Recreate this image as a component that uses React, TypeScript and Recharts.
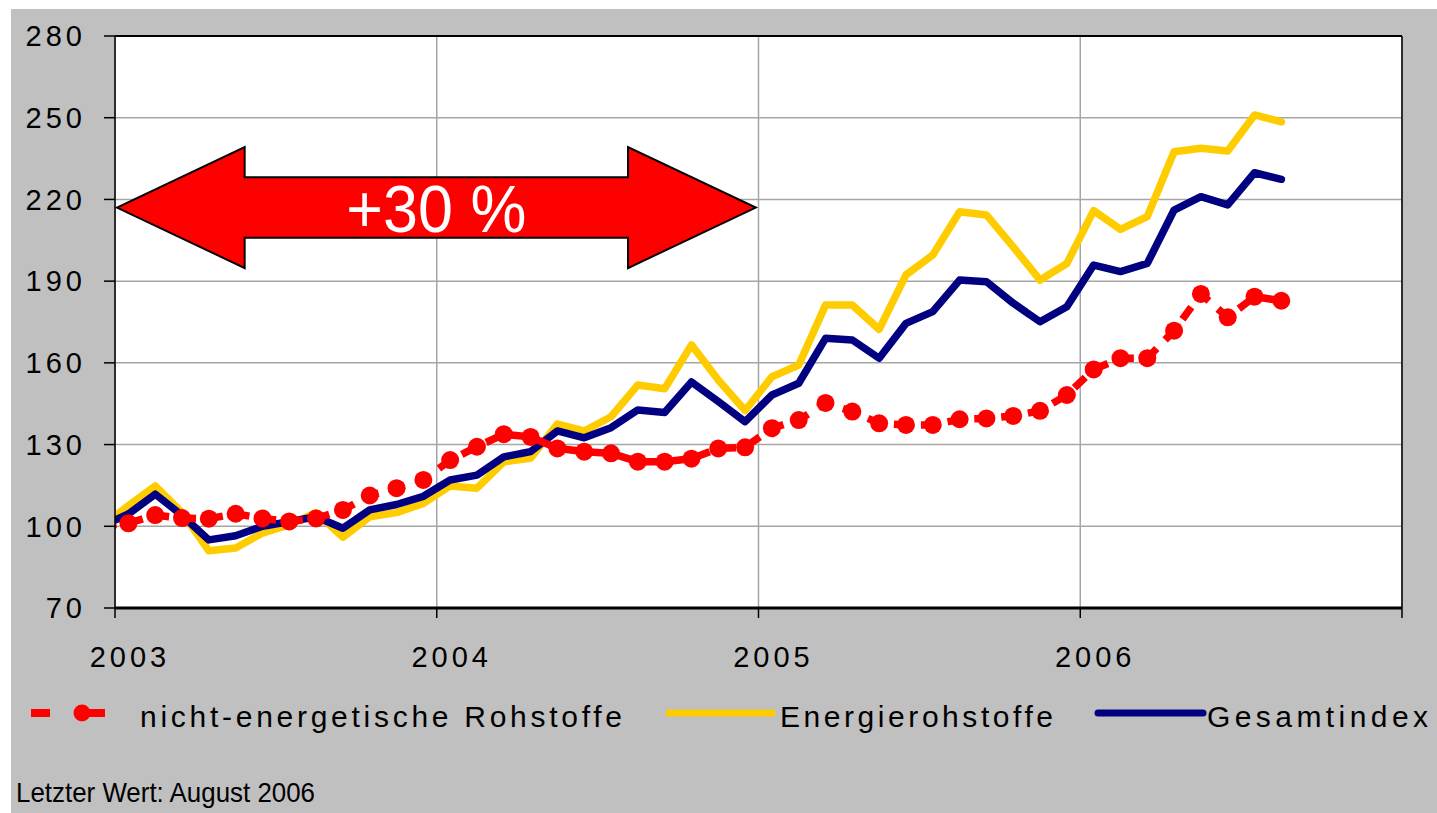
import {
  LineChart,
  Line,
  XAxis,
  YAxis,
  CartesianGrid,
  ReferenceLine,
  ReferenceArea,
} from "recharts"

// Monatswerte, Index Januar 2003 = 100 (erster Punkt ist der Startwert am Achsenrand)
const months = [
  "2002-12",
  "2003-01", "2003-02", "2003-03", "2003-04", "2003-05", "2003-06",
  "2003-07", "2003-08", "2003-09", "2003-10", "2003-11", "2003-12",
  "2004-01", "2004-02", "2004-03", "2004-04", "2004-05", "2004-06",
  "2004-07", "2004-08", "2004-09", "2004-10", "2004-11", "2004-12",
  "2005-01", "2005-02", "2005-03", "2005-04", "2005-05", "2005-06",
  "2005-07", "2005-08", "2005-09", "2005-10", "2005-11", "2005-12",
  "2006-01", "2006-02", "2006-03", "2006-04", "2006-05", "2006-06",
  "2006-07", "2006-08",
]

const nichtEnergetisch = [
  100,
  101.1, 104.1, 103.0, 102.8, 104.6, 102.9, 101.8, 102.9, 106.0, 111.3, 114.0, 117.0,
  124.3, 129.2, 133.8, 132.8, 128.6, 127.4, 126.8, 123.7, 123.7, 124.8, 128.6, 129.0,
  136.0, 139.0, 145.3, 142.1, 137.8, 137.2, 137.2, 139.3, 139.6, 140.5, 142.4, 148.2,
  157.6, 161.7, 161.7, 171.8, 185.3, 176.7, 184.3, 182.8,
]

const energie = [
  100,
  107.5, 114.8, 105.0, 91.0, 92.0, 97.5, 100.5, 105.0, 96.0, 103.5, 105.0, 108.4,
  114.8, 114.0, 123.7, 125.0, 137.5, 135.0, 140.2, 151.9, 150.5, 166.6, 153.7, 142.5,
  154.9, 159.2, 181.2, 181.2, 172.3, 192.3, 199.6, 215.5, 214.3, 202.6, 190.4, 196.5,
  215.9, 209.0, 213.7, 237.5, 238.8, 237.8, 251.0, 248.5,
]

const gesamt = [
  100,
  104.5, 111.8, 104.0, 95.0, 96.5, 100.0, 101.7, 103.5, 99.3, 106.0, 108.0, 111.0,
  117.0, 118.8, 125.5, 127.4, 135.0, 132.5, 136.2, 142.7, 141.8, 153.0, 145.8, 138.4,
  148.2, 152.5, 169.0, 168.4, 161.7, 174.5, 178.8, 190.4, 189.8, 181.9, 175.1, 180.6,
  195.9, 193.5, 196.5, 216.1, 221.0, 218.0, 229.8, 227.4,
]

const seriesNames = ["nicht-energetische Rohstoffe", "Energierohstoffe", "Gesamtindex"]
const yearTicks = [0, 12, 24, 36, 48]
const yearLabels = ["2003", "2004", "2005", "2006", ""]
const valueTicks = [70, 100, 130, 160, 190, 220, 250, 280]
const footnote = "Letzter Wert: August 2006"

// Pfeil "+30 %" in Achsenwerten (Monate ab Jan 2003, Indexwerte)
const arrowLabel = "+30 %"
const arrowFrom = 0.07
const arrowTo = 23.9
const arrowLow = 194.8
const arrowHigh = 239.2

const FONT = "'Liberation Sans', Arial, sans-serif"

// Monat in der Mitte des Monats auf der Jahresachse
const data = months.map((m, i) => {
  const [yy, mm] = m.split("-").map(Number)
  return {
    t: (yy - 2003) * 12 + (mm - 1) + 0.5,
    nicht: nichtEnergetisch[i],
    energie: energie[i],
    gesamt: gesamt[i],
  }
})

function YearTick({ x, y, payload }: any) {
  const label = yearLabels[yearTicks.indexOf(payload.value)]
  return (
    <text
      x={x + 15}
      y={y + 47}
      textAnchor="middle"
      fontSize={29}
      fontFamily={FONT}
      letterSpacing={4}
      fill="#000"
    >
      {label}
    </text>
  )
}

function ArrowShape({ x, y, width, height }: any) {
  const head = width * 0.2
  const s1 = y + height * 0.25
  const s2 = y + height * 0.75
  const cy = y + height / 2
  const pts = [
    [x, cy],
    [x + head, y],
    [x + head, s1],
    [x + width - head, s1],
    [x + width - head, y],
    [x + width, cy],
    [x + width - head, y + height],
    [x + width - head, s2],
    [x + head, s2],
    [x + head, y + height],
  ]
  return (
    <g>
      <polygon
        points={pts.map((p) => p.join(",")).join(" ")}
        fill="#ff0000"
        stroke="#000"
        strokeWidth={2}
      />
      <text
        x={x + width / 2}
        y={cy + height * 0.2}
        textAnchor="middle"
        fontSize={66}
        fontFamily={FONT}
        fill="#fff"
        textLength={180}
        lengthAdjust="spacingAndGlyphs"
      >
        {arrowLabel}
      </text>
    </g>
  )
}

export default function App() {
  return (
    <div
      style={{
        position: "fixed",
        left: 11,
        top: 9,
        width: 1426,
        height: 804,
        background: "#c0c0c0",
        fontFamily: FONT,
      }}
    >
      <LineChart
        width={1426}
        height={680}
        data={data}
        margin={{ top: 27, right: 35, left: 0, bottom: 21 }}
      >
        <CartesianGrid stroke="#a6a6a6" strokeWidth={1.5} fill="#ffffff" />
        <XAxis
          dataKey="t"
          type="number"
          domain={[0, 48]}
          ticks={yearTicks}
          allowDataOverflow
          interval={0}
          height={60}
          tickSize={10}
          tickMargin={2}
          axisLine={{ stroke: "#000", strokeWidth: 3 }}
          tickLine={{ stroke: "#000", strokeWidth: 1.5 }}
          tick={<YearTick />}
        />
        <YAxis
          type="number"
          domain={[70, 280]}
          ticks={valueTicks}
          interval={0}
          width={104}
          tickSize={11}
          tickMargin={18}
          axisLine={{ stroke: "#000", strokeWidth: 1.5 }}
          tickLine={{ stroke: "#000", strokeWidth: 1.5 }}
          tick={{ fill: "#000", fontSize: 29, fontFamily: FONT, letterSpacing: 4 }}
        />
        <ReferenceLine y={280} stroke="#000" strokeWidth={2} />
        <ReferenceLine x={48} stroke="#000" strokeWidth={1.5} />
        <ReferenceArea
          x1={arrowFrom}
          x2={arrowTo}
          y1={arrowLow}
          y2={arrowHigh}
          ifOverflow="visible"
          shape={<ArrowShape />}
        />
        <Line
          dataKey="energie"
          name={seriesNames[1]}
          type="linear"
          stroke="#ffcc00"
          strokeWidth={7.5}
          strokeLinejoin="round"
          strokeLinecap="round"
          dot={false}
          activeDot={false}
          isAnimationActive={false}
        />
        <Line
          dataKey="gesamt"
          name={seriesNames[2]}
          type="linear"
          stroke="#000080"
          strokeWidth={7.5}
          strokeLinejoin="round"
          strokeLinecap="round"
          dot={false}
          activeDot={false}
          isAnimationActive={false}
        />
        <Line
          dataKey="nicht"
          name={seriesNames[0]}
          type="linear"
          stroke="#ff0000"
          strokeWidth={7.5}
          strokeDasharray="15 12"
          dot={{ r: 9, fill: "#ff0000", stroke: "none", strokeWidth: 0, strokeDasharray: "0" }}
          activeDot={false}
          isAnimationActive={false}
        />
      </LineChart>
      <svg
        width={1426}
        height={124}
        style={{ position: "absolute", left: 0, top: 680 }}
      >
        <line x1={20} x2={39} y1={24} y2={24} stroke="#ff0000" strokeWidth={8} />
        <line x1={68} x2={94} y1={24} y2={24} stroke="#ff0000" strokeWidth={8} />
        <circle cx={71} cy={24} r={8.5} fill="#ff0000" />
        <text x={129} y={38} fontSize={30} fontFamily={FONT} fill="#000" textLength={482} lengthAdjust="spacing">
          {seriesNames[0]}
        </text>
        <line x1={658} x2={761} y1={24} y2={24} stroke="#ffcc00" strokeWidth={7} strokeLinecap="round" />
        <text x={769} y={38} fontSize={30} fontFamily={FONT} fill="#000" textLength={273} lengthAdjust="spacing">
          {seriesNames[1]}
        </text>
        <line x1={1087} x2={1192} y1={24} y2={24} stroke="#000080" strokeWidth={7} strokeLinecap="round" />
        <text x={1196} y={38} fontSize={30} fontFamily={FONT} fill="#000" textLength={221} lengthAdjust="spacing">
          {seriesNames[2]}
        </text>
        <text x={5} y={113} fontSize={28} fontFamily={FONT} fill="#000" textLength={299} lengthAdjust="spacingAndGlyphs">
          {footnote}
        </text>
      </svg>
    </div>
  )
}
